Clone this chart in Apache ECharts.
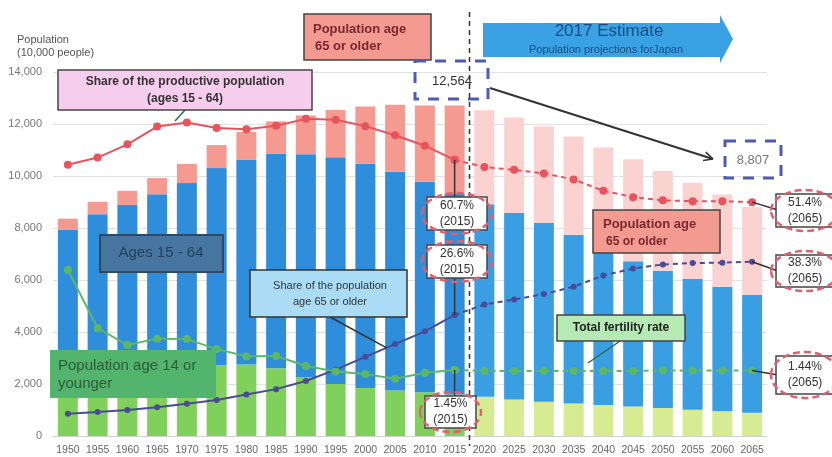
<!DOCTYPE html>
<html><head><meta charset="utf-8">
<script src="https://cdn.jsdelivr.net/npm/echarts@6/dist/echarts.min.js"></script>
<style>html,body{margin:0;padding:0;background:#fff}#main{width:832px;height:457px}</style>
</head><body><div id="main"></div>
<script>
// ---- data ----
const years = ['1950','1955','1960','1965','1970','1975','1980','1985','1990','1995','2000','2005','2010','2015','2020','2025','2030','2035','2040','2045','2050','2055','2060','2065'];
const age0to14  = [2979,3012,2843,2553,2515,2722,2751,2603,2249,2001,1847,1752,1680,1595,1507,1407,1321,1246,1194,1138,1077,1012,951,898];
const age15to64 = [4966,5517,6047,6744,7212,7581,7883,8251,8590,8716,8622,8409,8103,7728,7406,7170,6875,6494,5978,5584,5275,5028,4793,4529];
const age65plus = [416,479,540,624,739,887,1065,1247,1489,1826,2204,2576,2925,3387,3619,3677,3716,3782,3921,3919,3841,3704,3540,3381];
const shareProductive = [59.6,61.2,64.1,68.0,68.9,67.7,67.4,68.2,69.7,69.5,68.1,66.1,63.8,60.7,59.1,58.5,57.7,56.4,53.9,52.5,51.8,51.6,51.6,51.4];
const shareElderly = [4.9,5.3,5.7,6.3,7.1,7.9,9.1,10.3,12.1,14.6,17.4,20.2,23.0,26.6,28.9,30.0,31.2,32.8,35.3,36.8,37.7,38.0,38.1,38.3];
const fertilityRate = [3.65,2.37,2.00,2.14,2.13,1.91,1.75,1.76,1.54,1.42,1.36,1.26,1.39,1.45,1.43,1.43,1.43,1.43,1.43,1.43,1.44,1.44,1.44,1.44];
const yTicks = [0,2000,4000,6000,8000,10000,12000,14000];
const lastActual = '2015';
const total2015Label = '12,564';
const total2065Label = '8,807';

const iLast = years.indexOf(lastActual);
const isProj = i => i > iLast;
const FONT = '"Liberation Sans", Arial, sans-serif';

function barData(vals, cHist, cProj){
  return vals.map((v,i)=>({value:v, itemStyle:{color: isProj(i)?cProj:cHist}}));
}
function solidPart(vals){ return vals.map((v,i)=> i<=iLast ? v : '-'); }
function dashPart(vals){ return vals.map((v,i)=> i>=iLast ? v : '-'); }

function lineSeries(vals, axis, color, size){
  const base = {type:'line', yAxisIndex:axis, symbol:'circle', symbolSize:size, z:5,
    itemStyle:{color:color}, connectNulls:false};
  return [
    Object.assign({}, base, {data:solidPart(vals), lineStyle:{color:color,width:2}}),
    Object.assign({}, base, {data:dashPart(vals), lineStyle:{color:color,width:2,type:[5,4]}})
  ];
}

const chart = echarts.init(document.getElementById('main'));
chart.setOption({
  animation:false,
  textStyle:{fontFamily:FONT},
  grid:{left:53,right:65,top:72,bottom:21},
  xAxis:{type:'category', data:years,
    axisLine:{lineStyle:{color:'#d0d0d0'}}, axisTick:{show:false},
    axisLabel:{color:'#666', fontSize:10.5, margin:9, interval:0, fontFamily:FONT}},
  yAxis:[
    {type:'value', min:yTicks[0], max:yTicks[yTicks.length-1], interval:yTicks[1]-yTicks[0],
      axisLabel:{color:'#777', fontSize:11, margin:11, fontFamily:FONT,
        formatter:v=>v.toLocaleString('en-US')},
      axisLine:{show:false}, axisTick:{show:false},
      splitLine:{lineStyle:{color:'#e2e2e2'}}},
    {type:'value', min:0, max:80, show:false, splitLine:{show:false}},
    {type:'value', min:0, max:8, show:false, splitLine:{show:false}}
  ],
  series:[
    {type:'bar', stack:'pop', barWidth:20, data:barData(age0to14,'#80d05c','#d7ec92')},
    {type:'bar', stack:'pop', barWidth:20, data:barData(age15to64,'#2f8edb','#3a9ee3')},
    {type:'bar', stack:'pop', barWidth:20, data:barData(age65plus,'#f49a91','#fad3d0')},
    ...lineSeries(shareProductive,1,'#e8535c',8),
    ...lineSeries(shareElderly,1,'#4b4a96',6),
    ...lineSeries(fertilityRate,2,'#5cb865',8)
  ]
});

function P(yr, v, axis){ return chart.convertToPixel({xAxisIndex:0,yAxisIndex:axis},[yr,v]); }
const g = [];
function rect(x,y,w,h,fill,stroke,lw,dash){
  g.push({type:'rect', shape:{x:x,y:y,width:w,height:h}, z:100,
    style:{fill:fill, stroke:stroke, lineWidth:lw||1.5, lineDash:dash||null}});
}
function text(x,y,t,opt){
  g.push({type:'text', x:x, y:y, z:102, style:Object.assign({text:t, fontFamily:FONT, fontSize:12,
    fill:'#333', align:'center', verticalAlign:'middle'}, opt||{})});
}
function line(x1,y1,x2,y2,color,w,dash){
  g.push({type:'line', shape:{x1:x1,y1:y1,x2:x2,y2:y2}, z:99,
    style:{stroke:color||'#333', lineWidth:w||1.5, lineDash:dash||null}});
}
function ellipse(cx,cy,rx,ry){
  g.push({type:'ellipse', shape:{cx:cx,cy:cy,rx:rx,ry:ry}, z:101,
    style:{fill:null, stroke:'#e0606e', lineWidth:2.5, lineDash:[7,4]}});
}
function valueBox(x,y,w,h,t1,t2){
  rect(x,y,w,h,'#fff','#444',1.5);
  ellipse(x+w/2,y+h/2,w/2+5,h/2+4);
  text(x+w/2,y+h/2-8,t1,{fontSize:12});
  text(x+w/2,y+h/2+8,t2,{fontSize:12});
}

// vertical divider
const xDiv = (P(years[iLast],0,0)[0] + P(years[iLast+1],0,0)[0])/2;
line(xDiv, 12, xDiv, 446, '#333', 1.5, [5,4]);

// estimate arrow
g.push({type:'polygon', z:100, shape:{points:[[483,23],[720,23],[720,15],[733,39],[720,63],[720,57],[483,57]]},
  style:{fill:'#3aa2e4'}});
text(609,31,'2017 Estimate',{fontSize:17, fill:'#1d4c7c'});
text(606,50,'Population projections forJapan',{fontSize:11, fill:'#1d4c7c'});

// y-axis title
text(17,40,'Population',{fontSize:11, fill:'#555', align:'left'});
text(17,53,'(10,000 people)',{fontSize:11, fill:'#555', align:'left'});

// share of productive population box
rect(58,70,254,40,'#f6cdec','#444',1.5);
text(185,82,'Share of the productive population',{fontWeight:'bold', fill:'#333'});
text(185,99,'(ages 15 - 64)',{fontWeight:'bold', fill:'#333'});
line(185,110,175,121,'#2e6b4f',1.5);

// population 65+ top box
rect(304,14,127,46,'#f39b90','#444',1.5);
text(313,29,'Population age',{fontWeight:'bold', fill:'#7a2732', fontSize:13, align:'left'});
text(315,46,'65 or older',{fontWeight:'bold', fill:'#7a2732', fontSize:13, align:'left'});

// 12,564 / 8,807 boxes
rect(415,61,73,38,null,'#4a5db2',3,[11,9]);
text(452,81,total2015Label,{fontSize:13, fill:'#333'});
rect(725,141,56,37,null,'#4a5db2',3,[11,9]);
text(753,160,total2065Label,{fontSize:13, fill:'#777'});
line(490,88,713,159,'#333',2);
(function(){const x2=713,y2=159,ang=Math.atan2(159-88,713-490),L=10;
  line(x2,y2,x2-L*Math.cos(ang-0.45),y2-L*Math.sin(ang-0.45),'#333',1.5);
  line(x2,y2,x2-L*Math.cos(ang+0.45),y2-L*Math.sin(ang+0.45),'#333',1.5);})();

// Ages 15-64 box
rect(100,235,123,37,'#4676a0','#2c4a66',2);
text(161,253,'Ages 15 - 64',{fontSize:15, fill:'#243f5c'});

// share of population 65+ box
rect(250,270,157,47,'#aadcf5','#333',1.5);
const pE = P('2005',shareElderly[years.indexOf('2005')],1);
line(330,317,pE[0]-8,pE[1]+4,'#333',1.5);
text(330,286,'Share of the population',{fontSize:11});
text(330,302,'age 65 or older',{fontSize:11});

// population 14 or younger
rect(50,350,166,48,'#52b46d',null,0);
text(58,366,'Population age 14 or',{fontSize:15, fill:'#2f5b3c', align:'left'});
text(58,384,'younger',{fontSize:15, fill:'#2f5b3c', align:'left'});

// 2015 value boxes with leader lines
const x15 = P(lastActual,0,0)[0];
const pR15 = P(lastActual, shareProductive[iLast],1);
const pE15 = P(lastActual, shareElderly[iLast],1);
const pF15 = P(lastActual, fertilityRate[iLast],2);
line(x15,pR15[1],x15,197,'#333',1.5);
line(x15,278,x15,pE15[1],'#333',1.5);
line(x15,pF15[1],x15,396,'#333',1.5);
valueBox(427,197,60,33,shareProductive[iLast].toFixed(1)+'%','('+lastActual+')');
valueBox(427,245,60,33,shareElderly[iLast].toFixed(1)+'%','('+lastActual+')');
valueBox(425,396,51,32,fertilityRate[iLast].toFixed(2)+'%','('+lastActual+')');

// population 65+ right box
rect(593,210,127,43,'#f39b90','#444',1.5);
text(603,224,'Population age',{fontWeight:'bold', fill:'#7a2732', fontSize:13, align:'left'});
text(606,242,'65 or older',{fontWeight:'bold', fill:'#7a2732', fontSize:12, align:'left'});

// total fertility rate
rect(557,315,128,26,'#b6eab4','#444',1.5);
text(621,328,'Total fertility rate',{fontWeight:'bold', fontSize:12, fill:'#222'});
line(620,341,588,363,'#2e6b4f',1.5);

// 2065 boxes
const iEnd = years.length-1, yEnd = years[iEnd];
const pR65 = P(yEnd, shareProductive[iEnd],1);
const pE65 = P(yEnd, shareElderly[iEnd],1);
const pF65 = P(yEnd, fertilityRate[iEnd],2);
line(pR65[0],pR65[1],778,210,'#333',1.5);
line(pE65[0],pE65[1],778,271,'#333',1.5);
line(pF65[0],pF65[1],778,375,'#333',1.5);
valueBox(776,194,58,33,shareProductive[iEnd].toFixed(1)+'%','('+yEnd+')');
valueBox(776,255,58,32,shareElderly[iEnd].toFixed(1)+'%','('+yEnd+')');
valueBox(776,356,58,38,fertilityRate[iEnd].toFixed(2)+'%','('+yEnd+')');

chart.setOption({graphic:{elements:g}});
</script></body></html>
